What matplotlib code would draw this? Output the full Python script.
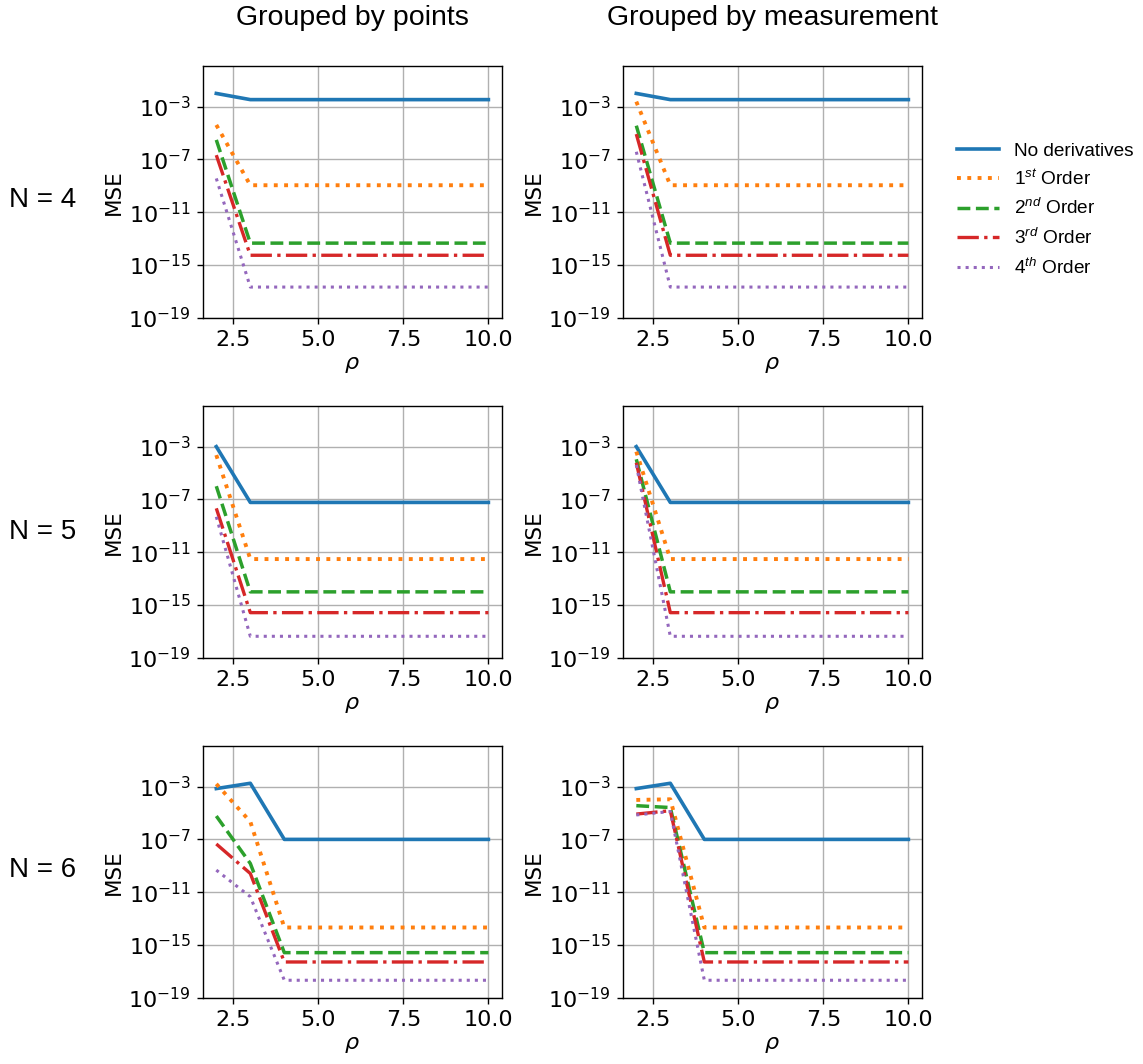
import matplotlib
matplotlib.use('Agg')
import matplotlib.pyplot as plt
from matplotlib.font_manager import FontProperties

plt.rcParams['mathtext.it'] = 'Liberation Sans:italic'
plt.rcParams['mathtext.rm'] = 'Liberation Sans'

# rho values on the x axis
rho = [2, 3, 4, 5, 6, 7, 8, 9, 10]

labels = ['No derivatives', '1$^{st}$ Order', '2$^{nd}$ Order', '3$^{rd}$ Order', '4$^{th}$ Order']
col_titles = ['Grouped by points', 'Grouped by measurement']
row_titles = ['N = 4', 'N = 5', 'N = 6']

# N = 4, grouped by points
n4_pts_none = [1.0e-2, 3.4e-3, 3.4e-3, 3.4e-3, 3.4e-3, 3.4e-3, 3.4e-3, 3.4e-3, 3.4e-3]
n4_pts_1st = [4.1e-5, 1.1e-9, 1.1e-9, 1.1e-9, 1.1e-9, 1.1e-9, 1.1e-9, 1.1e-9, 1.1e-9]
n4_pts_2nd = [3.0e-6, 4.5e-14, 4.5e-14, 4.5e-14, 4.5e-14, 4.5e-14, 4.5e-14, 4.5e-14, 4.5e-14]
n4_pts_3rd = [2.1e-7, 5.4e-15, 5.4e-15, 5.4e-15, 5.4e-15, 5.4e-15, 5.4e-15, 5.4e-15, 5.4e-15]
n4_pts_4th = [3.6e-9, 2.1e-17, 2.1e-17, 2.1e-17, 2.1e-17, 2.1e-17, 2.1e-17, 2.1e-17, 2.1e-17]

# N = 4, grouped by measurement
n4_meas_none = [1.0e-2, 3.4e-3, 3.4e-3, 3.4e-3, 3.4e-3, 3.4e-3, 3.4e-3, 3.4e-3, 3.4e-3]
n4_meas_1st = [2.4e-3, 1.1e-9, 1.1e-9, 1.1e-9, 1.1e-9, 1.1e-9, 1.1e-9, 1.1e-9, 1.1e-9]
n4_meas_2nd = [3.6e-5, 4.5e-14, 4.5e-14, 4.5e-14, 4.5e-14, 4.5e-14, 4.5e-14, 4.5e-14, 4.5e-14]
n4_meas_3rd = [8.3e-6, 5.4e-15, 5.4e-15, 5.4e-15, 5.4e-15, 5.4e-15, 5.4e-15, 5.4e-15, 5.4e-15]
n4_meas_4th = [3.8e-7, 2.1e-17, 2.1e-17, 2.1e-17, 2.1e-17, 2.1e-17, 2.1e-17, 2.1e-17, 2.1e-17]

# N = 5, grouped by points
n5_pts_none = [1.0e-3, 5.9e-8, 5.9e-8, 5.9e-8, 5.9e-8, 5.9e-8, 5.9e-8, 5.9e-8, 5.9e-8]
n5_pts_1st = [2.3e-4, 3.0e-12, 3.0e-12, 3.0e-12, 3.0e-12, 3.0e-12, 3.0e-12, 3.0e-12, 3.0e-12]
n5_pts_2nd = [1.0e-6, 9.8e-15, 9.8e-15, 9.8e-15, 9.8e-15, 9.8e-15, 9.8e-15, 9.8e-15, 9.8e-15]
n5_pts_3rd = [2.1e-8, 2.6e-16, 2.6e-16, 2.6e-16, 2.6e-16, 2.6e-16, 2.6e-16, 2.6e-16, 2.6e-16]
n5_pts_4th = [4.8e-9, 4.2e-18, 4.2e-18, 4.2e-18, 4.2e-18, 4.2e-18, 4.2e-18, 4.2e-18, 4.2e-18]

# N = 5, grouped by measurement
n5_meas_none = [1.0e-3, 5.9e-8, 5.9e-8, 5.9e-8, 5.9e-8, 5.9e-8, 5.9e-8, 5.9e-8, 5.9e-8]
n5_meas_1st = [4.2e-4, 3.0e-12, 3.0e-12, 3.0e-12, 3.0e-12, 3.0e-12, 3.0e-12, 3.0e-12, 3.0e-12]
n5_meas_2nd = [1.1e-4, 9.8e-15, 9.8e-15, 9.8e-15, 9.8e-15, 9.8e-15, 9.8e-15, 9.8e-15, 9.8e-15]
n5_meas_3rd = [6.0e-5, 2.6e-16, 2.6e-16, 2.6e-16, 2.6e-16, 2.6e-16, 2.6e-16, 2.6e-16, 2.6e-16]
n5_meas_4th = [4.1e-5, 4.2e-18, 4.2e-18, 4.2e-18, 4.2e-18, 4.2e-18, 4.2e-18, 4.2e-18, 4.2e-18]

# N = 6, grouped by points
n6_pts_none = [7.1e-4, 1.8e-3, 1.0e-7, 1.0e-7, 1.0e-7, 1.0e-7, 1.0e-7, 1.0e-7, 1.0e-7]
n6_pts_1st = [1.6e-3, 2.2e-6, 2.1e-14, 2.1e-14, 2.1e-14, 2.1e-14, 2.1e-14, 2.1e-14, 2.1e-14]
n6_pts_2nd = [5.9e-6, 1.5e-9, 2.6e-16, 2.6e-16, 2.6e-16, 2.6e-16, 2.6e-16, 2.6e-16, 2.6e-16]
n6_pts_3rd = [4.5e-8, 2.6e-10, 5.1e-17, 5.1e-17, 5.1e-17, 5.1e-17, 5.1e-17, 5.1e-17, 5.1e-17]
n6_pts_4th = [4.7e-10, 4.5e-12, 2.1e-18, 2.1e-18, 2.1e-18, 2.1e-18, 2.1e-18, 2.1e-18, 2.1e-18]

# N = 6, grouped by measurement
n6_meas_none = [7.1e-4, 1.8e-3, 1.0e-7, 1.0e-7, 1.0e-7, 1.0e-7, 1.0e-7, 1.0e-7, 1.0e-7]
n6_meas_1st = [9.8e-5, 1.1e-4, 2.1e-14, 2.1e-14, 2.1e-14, 2.1e-14, 2.1e-14, 2.1e-14, 2.1e-14]
n6_meas_2nd = [3.6e-5, 2.6e-5, 2.6e-16, 2.6e-16, 2.6e-16, 2.6e-16, 2.6e-16, 2.6e-16, 2.6e-16]
n6_meas_3rd = [8.3e-6, 1.5e-5, 5.1e-17, 5.1e-17, 5.1e-17, 5.1e-17, 5.1e-17, 5.1e-17, 5.1e-17]
n6_meas_4th = [7.1e-6, 1.3e-5, 2.1e-18, 2.1e-18, 2.1e-18, 2.1e-18, 2.1e-18, 2.1e-18, 2.1e-18]

panels = [
    [[n4_pts_none, n4_pts_1st, n4_pts_2nd, n4_pts_3rd, n4_pts_4th],
     [n4_meas_none, n4_meas_1st, n4_meas_2nd, n4_meas_3rd, n4_meas_4th]],
    [[n5_pts_none, n5_pts_1st, n5_pts_2nd, n5_pts_3rd, n5_pts_4th],
     [n5_meas_none, n5_meas_1st, n5_meas_2nd, n5_meas_3rd, n5_meas_4th]],
    [[n6_pts_none, n6_pts_1st, n6_pts_2nd, n6_pts_3rd, n6_pts_4th],
     [n6_meas_none, n6_meas_1st, n6_meas_2nd, n6_meas_3rd, n6_meas_4th]],
]

colors = ['#1f77b4', '#ff7f0e', '#2ca02c', '#d62728', '#9467bd']
styles = ['-', ':', '--', '-.', ':']
widths = [2.6, 2.8, 2.5, 2.4, 2.2]

W, H = 1143, 1064
fig = plt.figure(figsize=(W / 100, H / 100), dpi=100)

col_left = [202.7, 622.7]
row_top = [66, 406, 746]
ax_w, ax_h = 299.3, 251.7

sans = 'Liberation Sans'

for r in range(3):
    for c in range(2):
        ax = fig.add_axes([col_left[c] / W, 1 - (row_top[r] + ax_h) / H, ax_w / W, ax_h / H])
        for k in range(5):
            ax.plot(rho, panels[r][c][k], color=colors[k], linestyle=styles[k],
                    linewidth=widths[k], label=labels[k])
        ax.set_yscale('log')
        ax.set_ylim(1e-19, 10 ** 0.08)
        ax.set_yticks([1e-19, 1e-15, 1e-11, 1e-7, 1e-3])
        ax.minorticks_off()
        ax.set_xticks([2.5, 5.0, 7.5, 10.0])
        ax.grid(True, color='#b0b0b0', linewidth=1.0)
        for sp in ax.spines.values():
            sp.set_linewidth(1.0)
        ax.tick_params(labelsize=16, length=4.3, width=1.0, pad=4.3)
        ax.set_ylabel('MSE', fontsize=15.5, labelpad=3)
        ax.set_xlabel(r'$\rho$', fontsize=16, labelpad=4)
        if r == 0 and c == 1:
            handles, labs = ax.get_legend_handles_labels()

for c in range(2):
    fig.text((col_left[c] + ax_w / 2) / W, 1 - 18 / H, col_titles[c],
             ha='center', va='center', fontsize=20.5, family=sans)

row_y = [200, 532, 870]
for r in range(3):
    fig.text(43 / W, 1 - row_y[r] / H, row_titles[r],
             ha='center', va='center', fontsize=20, family=sans)

leg_font = FontProperties(family=sans, size=13.7, math_fontfamily='custom')
fig.legend(handles, labs, loc='center left', bbox_to_anchor=(940 / W, 1 - 210 / H),
           frameon=False, prop=leg_font, handlelength=2.2, labelspacing=0.5)

fig.savefig('out.png', dpi=100)
